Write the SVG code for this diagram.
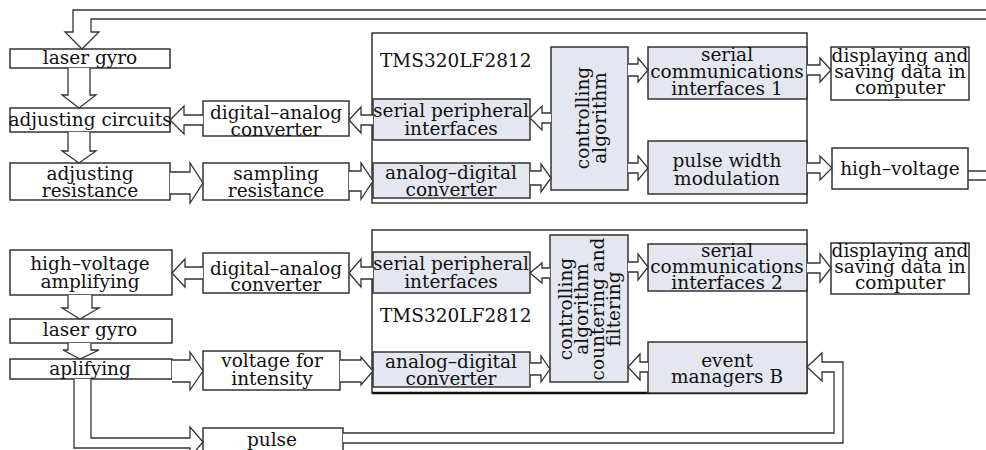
<svg xmlns="http://www.w3.org/2000/svg" width="986" height="450" viewBox="0 0 986 450">
  <style>
    .box { fill: #ffffff; stroke: #333333; stroke-width: 1.5; }
    .blk { fill: #e4e7f0; stroke: #333333; stroke-width: 1.5; }
    .arr { fill: #ffffff; stroke: #333333; stroke-width: 1.3; stroke-linejoin: miter; }
    .wire { fill: none; stroke: #333333; stroke-width: 1.5; }
    text { font-family: "DejaVu Serif", "Liberation Serif", serif; font-size: 18.5px; fill: #111111; text-anchor: middle; }
    .lt { text-anchor: start; }
  </style>
  <rect width="986" height="450" fill="#ffffff"/>

  <!-- ===== upper loop ===== -->
  <g id="dsp-1">
    <rect class="box" x="372" y="33" width="435" height="170"/>
    <text class="lt" x="380" y="67">TMS320LF2812</text>
  </g>
  <g id="laser-gyro-1">
    <rect class="box" x="10" y="49" width="160" height="19"/>
    <text x="90" y="64">laser gyro</text>
  </g>
  <g id="adjusting-circuits">
    <rect class="box" x="10" y="108" width="160" height="24"/>
    <text x="90" y="126">adjusting circuits</text>
  </g>
  <g id="adjusting-resistance">
    <rect class="box" x="10" y="163" width="160" height="37"/>
    <text x="90" y="180">adjusting</text>
    <text x="90" y="197">resistance</text>
  </g>
  <g id="sampling-resistance">
    <rect class="box" x="203" y="163" width="146" height="37"/>
    <text x="276" y="180">sampling</text>
    <text x="276" y="197">resistance</text>
  </g>
  <g id="dac-1">
    <rect class="box" x="203" y="101" width="146" height="35"/>
    <text x="276" y="119">digital–analog</text>
    <text x="276" y="136">converter</text>
  </g>
  <g id="spi-1">
    <rect class="blk" x="373" y="99" width="157" height="41"/>
    <text x="451" y="117">serial peripheral</text>
    <text x="451" y="135">interfaces</text>
  </g>
  <g id="adc-1">
    <rect class="blk" x="373" y="163" width="157" height="35"/>
    <text x="451" y="179">analog–digital</text>
    <text x="451" y="196">converter</text>
  </g>
  <g id="ctrl-1">
    <rect class="blk" x="551" y="47" width="77" height="143"/>
    <text transform="translate(589,118) rotate(-90)">controlling</text>
    <text transform="translate(606,118) rotate(-90)">algorithm</text>
  </g>
  <g id="sci-1">
    <rect class="blk" x="648" y="47" width="159" height="52"/>
    <text x="727" y="61">serial</text>
    <text x="727" y="78">communications</text>
    <text x="727" y="95">interfaces 1</text>
  </g>
  <g id="pwm">
    <rect class="blk" x="648" y="141" width="159" height="53"/>
    <text x="727" y="167">pulse width</text>
    <text x="727" y="185">modulation</text>
  </g>
  <g id="display-1">
    <rect class="box" x="831" y="47" width="138" height="53"/>
    <text x="900" y="62">displaying and</text>
    <text x="900" y="78">saving data in</text>
    <text x="900" y="94">computer</text>
  </g>
  <g id="high-voltage">
    <rect class="box" x="832" y="148" width="136" height="41"/>
    <text x="900" y="175">high–voltage</text>
  </g>

  <!-- ===== lower loop ===== -->
  <g id="dsp-2">
    <rect class="box" x="372" y="230" width="435" height="163"/>
    <line x1="372" y1="393" x2="807" y2="393" stroke="#111111" stroke-width="2.5"/>
    <text class="lt" x="380" y="322">TMS320LF2812</text>
  </g>
  <g id="spi-2">
    <rect class="blk" x="373" y="252" width="157" height="41"/>
    <text x="451" y="270">serial peripheral</text>
    <text x="451" y="288">interfaces</text>
  </g>
  <g id="adc-2">
    <rect class="blk" x="373" y="352" width="157" height="35"/>
    <text x="451" y="368">analog–digital</text>
    <text x="451" y="385">converter</text>
  </g>
  <g id="ctrl-2">
    <rect class="blk" x="550" y="235" width="78" height="147"/>
    <text transform="translate(572,309) rotate(-90)">controlling</text>
    <text transform="translate(588,309) rotate(-90)">algorithm</text>
    <text transform="translate(604,309) rotate(-90)">countering and</text>
    <text transform="translate(620,309) rotate(-90)">filtering</text>
  </g>
  <g id="sci-2">
    <rect class="blk" x="648" y="244" width="159" height="47"/>
    <text x="727" y="257">serial</text>
    <text x="727" y="273">communications</text>
    <text x="727" y="289">interfaces 2</text>
  </g>
  <g id="event-managers-b">
    <rect class="blk" x="648" y="342" width="159" height="51"/>
    <text x="727" y="367">event</text>
    <text x="727" y="383">managers B</text>
  </g>
  <g id="display-2">
    <rect class="box" x="831" y="243" width="138" height="51"/>
    <text x="900" y="257">displaying and</text>
    <text x="900" y="273">saving data in</text>
    <text x="900" y="289">computer</text>
  </g>
  <g id="dac-2">
    <rect class="box" x="203" y="253" width="146" height="40"/>
    <text x="276" y="275">digital–analog</text>
    <text x="276" y="291">converter</text>
  </g>
  <g id="hv-amplifying">
    <rect class="box" x="10" y="250" width="162" height="45"/>
    <text x="90" y="270">high–voltage</text>
    <text x="90" y="288">amplifying</text>
  </g>
  <g id="laser-gyro-2">
    <rect class="box" x="10" y="319" width="162" height="24"/>
    <text x="90" y="336">laser gyro</text>
  </g>
  <g id="aplifying">
    <rect class="box" x="10" y="359" width="162" height="20"/>
    <text x="90" y="375">aplifying</text>
  </g>
  <g id="voltage-for-intensity">
    <rect class="box" x="203" y="351" width="137" height="39"/>
    <text x="272" y="367">voltage for</text>
    <text x="272" y="385">intensity</text>
  </g>
  <g id="pulse">
    <rect class="box" x="203" y="428" width="140" height="30"/>
    <text x="272" y="446">pulse</text>
  </g>

  <!-- ===== connectors: hollow block arrows ===== -->
  <g id="connectors">
    <!-- upper loop -->
    <path class="arr" d="M986,10 H73 V32 H65 L82,49 L99,32 H91 V19 H986"/>
    <path class="arr" d="M968,171 H986 M968,180 H986"/>
    <path class="arr" d="M68,68 V95 H62 L79,108 L96,95 H90 V68"/>
    <path class="arr" d="M68,132 V151 H62 L79,163 L96,151 H90 V132"/>
    <path class="arr" d="M170,172 H190 V163 L203,183 L190,203 V194 H170"/>
    <path class="arr" d="M349,171 H361 V163 L373,181 L361,199 V191 H349"/>
    <path class="arr" d="M203,115 H184 V106 L170,120 L184,134 V125 H203"/>
    <path class="arr" d="M373,115 H361 V107 L349,120 L361,133 V125 H373"/>
    <path class="arr" d="M551,113 H542 V106 L530,118 L542,130 V123 H551"/>
    <path class="arr" d="M530,171 H541 V164 L551,178 L541,192 V185 H530"/>
    <path class="arr" d="M628,64 H638 V58 L648,70 L638,82 V76 H628"/>
    <path class="arr" d="M628,163 H638 V156 L648,168 L638,180 V173 H628"/>
    <path class="arr" d="M807,65 H820 V58 L831,70 L820,82 V75 H807"/>
    <path class="arr" d="M807,163 H820 V156 L832,168 L820,180 V173 H807"/>

    <!-- lower loop -->
    <path class="arr" d="M373,267 H361 V259 L349,273 L361,287 V279 H373"/>
    <path class="arr" d="M203,267 H185 V259 L172,273 L185,287 V279 H203"/>
    <path class="arr" d="M550,268 H542 V263 L530,273 L542,283 V278 H550"/>
    <path class="arr" d="M530,363 H541 V356 L550,369 L541,382 V375 H530"/>
    <path class="arr" d="M628,262 H638 V254 L648,267 L638,280 V272 H628"/>
    <path class="arr" d="M648,362 H640 V354 L628,367 L640,380 V372 H648"/>
    <path class="arr" d="M807,263 H820 V254 L831,268 L820,282 V273 H807"/>
    <path class="arr" d="M68,295 V308 H62 L80,319 L99,308 H92 V295"/>
    <path class="arr" d="M68,343 V350 H63 L80,359 L99,350 H91 V343"/>
    <path class="arr" d="M172,360 H190 V352 L203,371 L190,390 V382 H172"/>
    <path class="arr" d="M340,360 H361 V357 L373,371 L361,385 V382 H340"/>
    <path class="arr" d="M74,379 V448 H190 V457 L203,442 L190,427 V438 H91 V379"/>
    <path class="arr" d="M343,443 H843 V362 H822 V353 L807,367 L822,381 V372 H834 V433 H343"/>
  </g>
</svg>
